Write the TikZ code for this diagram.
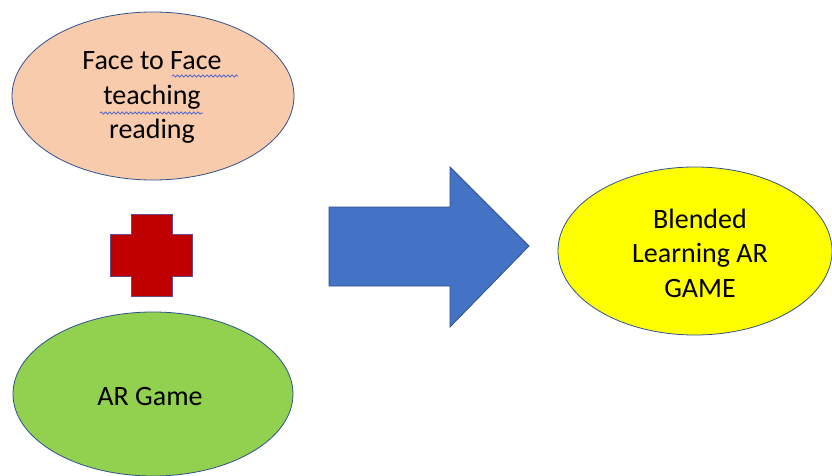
\documentclass[tikz,border=0pt]{standalone}
\usepackage{fontspec}
\setmainfont{Carlito}
\usetikzlibrary{shapes.geometric,decorations.pathmorphing}
\definecolor{peach}{HTML}{F8CBAD}
\definecolor{leaf}{HTML}{92D050}
\definecolor{sun}{HTML}{FFFF00}
\definecolor{crossred}{HTML}{C00000}
\definecolor{arrowblue}{HTML}{4472C4}
\definecolor{edgeblue}{HTML}{2F528F}
\definecolor{crossedge}{HTML}{6A4A8C}
\definecolor{squiggle}{HTML}{4F63C8}
\tikzset{
  blob/.style={ellipse, draw=edgeblue, line width=0.8pt, inner sep=0pt},
  lbl/.style={align=center, font=\fontsize{28}{34.5}\selectfont, inner sep=0pt},
  spell/.style={draw=squiggle, line width=0.8pt, decorate, decoration={snake, segment length=4.2pt, amplitude=1.1pt}}
}
\begin{document}
\begin{tikzpicture}[x=1pt,y=-1pt]
\useasboundingbox[fill=white] (0,0) rectangle (832,476);
% top ellipse
\node[blob, fill=peach, minimum width=282pt, minimum height=168pt] (f2f) at (153,96) {};
\node[lbl] (f2ft) at (152,97.5) {Face to Face\\teaching\\reading};
\draw[spell] (172,76) -- (238,76);
\draw[spell] (100,113) -- (203,113);
% red cross
\draw[fill=crossred, draw=crossedge, line width=0.8pt]
  (131,214) -- (172,214) -- (172,234) -- (192,234) -- (192,276) -- (172,276)
  -- (172,296) -- (131,296) -- (131,276) -- (110,276) -- (110,234) -- (131,234) -- cycle;
% bottom ellipse
\node[blob, fill=leaf, minimum width=280pt, minimum height=164pt] (ar) at (153,394) {};
\node[lbl] (art) at (150,397) {AR Game};
% big arrow
\draw[fill=arrowblue, draw=edgeblue, line width=0.8pt]
  (329,207) -- (450,207) -- (450,167) -- (529,246) -- (450,327) -- (450,286) -- (329,286) -- cycle;
% right ellipse
\node[blob, fill=sun, minimum width=274pt, minimum height=168pt] (bl) at (695,251) {};
\node[lbl] (blt) at (700,253) {Blended\\Learning AR\\GAME};
\end{tikzpicture}
\end{document}
